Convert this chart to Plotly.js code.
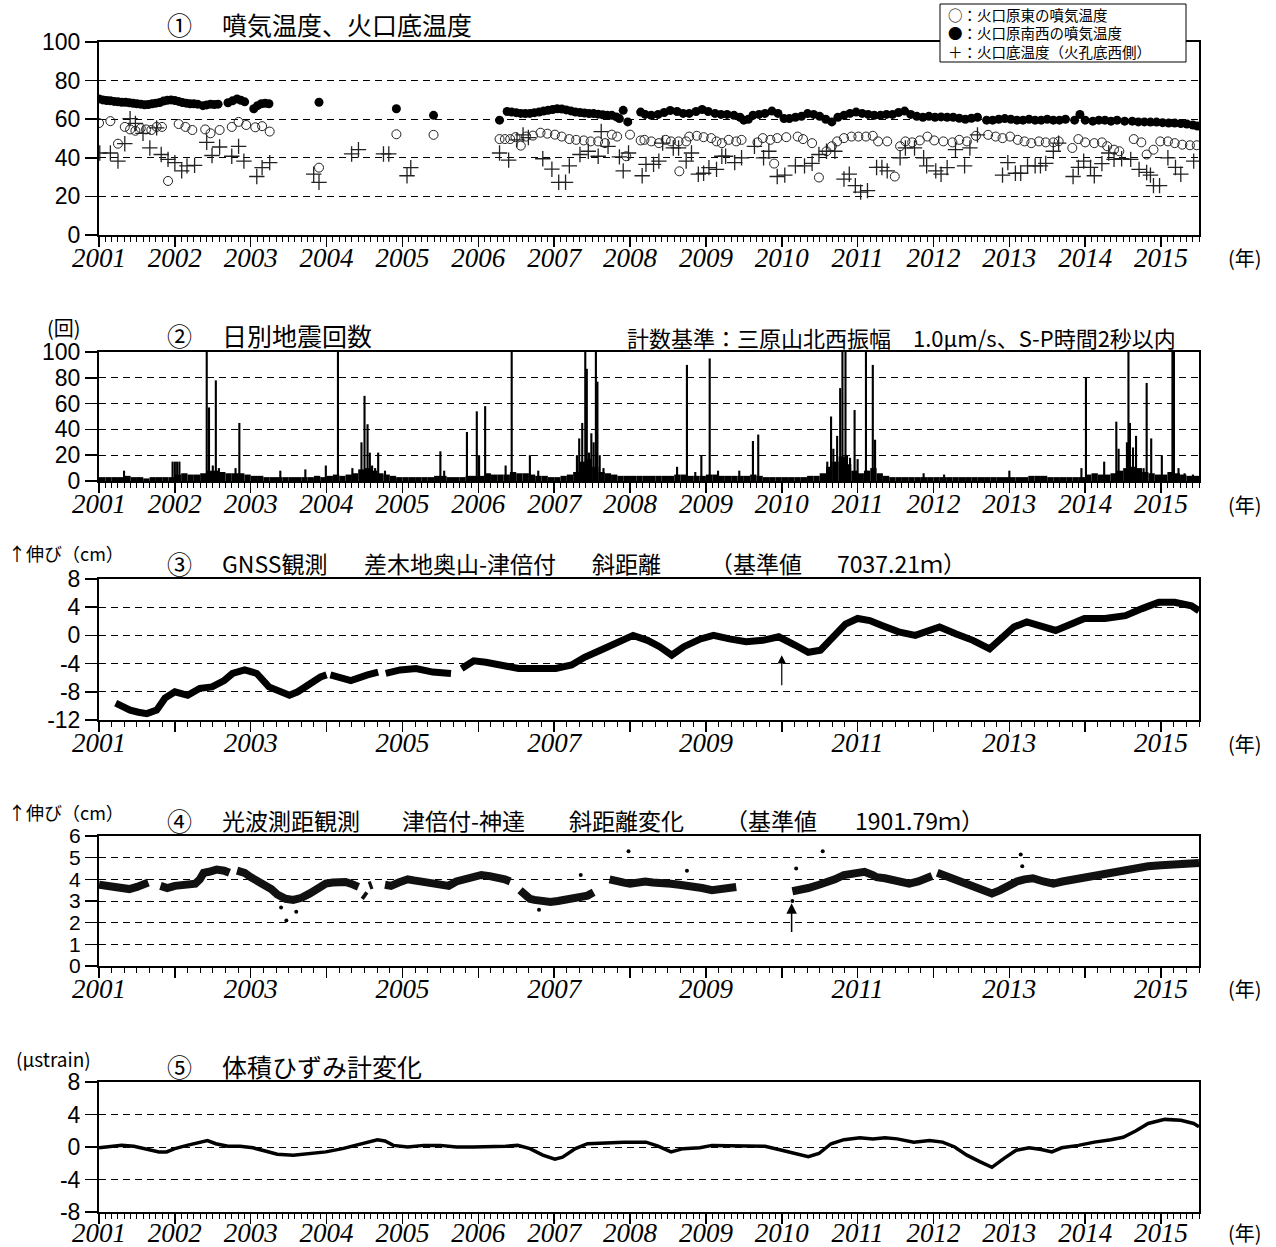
<!DOCTYPE html>
<html><head><meta charset="utf-8">
<script src="https://cdn.plot.ly/plotly-3.0.1.min.js"></script>
<style>body{margin:0;background:#fff}#chart{width:1276px;height:1247px}</style>
</head><body><div id="chart"></div>
<script>
// ---------- DATA ----------
const yearTicks = [2001,2002,2003,2004,2005,2006,2007,2008,2009,2010,2011,2012,2013,2014,2015];

// Panel 1: fumarole temperatures (year, degC)
const eastFumarole = [[2001.00,58],[2001.15,59],[2001.25,47.3],[2001.34,56],[2001.41,54.7],[2001.48,54],[2001.55,55.3],[2001.62,54.7],[2001.69,54.4],[2001.76,56],[2001.83,56],[2001.91,28],[2002.05,57.5],[2002.14,56],[2002.23,54.4],[2002.40,54.7],[2002.47,52.7],[2002.59,54.4],[2002.75,56],[2002.84,58.6],[2002.94,57],[2003.06,55.8],[2003.15,56.4],[2003.25,53.6],[2003.90,34.9],[2004.92,52.2],[2005.41,51.9],[2006.28,49.7],[2006.35,49.7],[2006.42,49.7],[2006.49,50.7],[2006.56,46.3],[2006.63,51],[2006.72,51.5],[2006.82,53],[2006.91,52.5],[2007.01,52],[2007.10,51],[2007.20,49.7],[2007.29,49.3],[2007.39,49],[2007.48,48.5],[2007.58,48.5],[2007.67,47.6],[2007.76,52],[2007.83,51],[2007.95,40.8],[2008.00,52],[2008.14,49],
[2008.19,49.3],[2008.28,48.5],[2008.38,47.6],[2008.47,49.3],[2008.54,48.5],[2008.64,48.5],[2008.65,33],[2008.74,48.5],[2008.78,51],[2008.88,51.4],[2008.97,50.7],[2009.07,50.2],[2009.14,48.5],[2009.21,47.6],[2009.30,49.3],[2009.40,48.5],[2009.47,49.3],[2009.68,48],[2009.75,50.2],[2009.85,49.3],[2009.90,37],[2009.94,50.2],[2010.06,50.7],[2010.21,51],[2010.28,49.7],[2010.40,47.6],[2010.49,29.8],[2010.59,43.4],[2010.66,46],[2010.73,48.5],[2010.82,50.2],[2010.92,51],[2011.01,51],[2011.11,51],[2011.20,51.4],[2011.27,48.5],[2011.39,48.5],[2011.49,30.3],[2011.56,46],[2011.63,48.5],[2011.72,48],[2011.82,49],[2011.92,51],[2012.01,49],[2012.13,48.5],[2012.25,48],[2012.34,49.3],[2012.44,48.5],[2012.56,51.4],[2012.72,51.9],[2012.82,51],[2012.91,50.2],[2013.01,51],[2013.11,49.3],[2013.20,48.5],[2013.29,47.6],[2013.39,48.5],[2013.48,48],[2013.58,48],[2013.65,48.5],[2013.83,45.1],[2013.91,49.7],[2014.00,48],[2014.12,47.6],[2014.22,48],[2014.29,46],[2014.38,44.2],[2014.45,43.4],[2014.64,49.7],[2014.74,48],[2014.81,41.7],[2014.90,44.2],[2014.99,48.5],[2015.09,48.5],[2015.18,47.6],[2015.28,46.8],[2015.38,46.5],[2015.47,46.5]];

const southwestFumarole = [[2001.00,70.5],[2001.05,70],[2001.10,69.7],[2001.15,69.5],[2001.20,69.2],[2001.25,69],[2001.30,68.8],[2001.35,68.8],[2001.40,68.5],[2001.45,68.2],[2001.50,68],[2001.55,67.8],[2001.60,67.5],[2001.65,67.6],[2001.70,68],[2001.75,68.3],[2001.80,68.6],[2001.85,69.4],[2001.90,69.8],[2001.95,70],[2002.00,69.7],[2002.05,69.2],[2002.10,68.6],[2002.15,68.3],[2002.20,68],[2002.25,68],[2002.30,67.8],[2002.37,67],[2002.42,67.4],[2002.47,67.8],[2002.52,67.6],[2002.57,67.8],[2002.70,68.5],[2002.76,69.5],[2002.82,70.5],[2002.87,69.8],[2002.92,69],[2003.04,65.4],[2003.09,67],[2003.14,68],[2003.19,68.2],[2003.24,68],[2003.90,68.8],[2004.92,65.4],[2005.41,62],[2006.28,59.5],[2006.38,64],[2006.44,63.7],[2006.50,63.4],[2006.56,63],[2006.62,62.9],[2006.68,63],[2006.74,63.4],[2006.80,63.7],[2006.86,64.2],[2006.92,64.6],[2006.98,65],[2007.04,65.4],[2007.10,65.3],[2007.16,64.8],[2007.22,64.3],[2007.28,63.7],[2007.34,63.5],[2007.40,63.2],[2007.46,62.9],[2007.52,62.9],[2007.58,62.6],[2007.64,62.3],[2007.70,62],[2007.76,62],[2007.82,61.2],[2007.86,60.3],[2007.91,64.6],[2007.97,58.6],[2008.14,63.7],
[2008.20,62.5],[2008.28,62],[2008.37,62.5],[2008.45,63.5],[2008.53,64.5],[2008.62,64],[2008.70,63],[2008.78,63],[2008.87,64],[2008.95,65],[2009.03,64],[2009.12,63],[2009.20,62.5],[2009.28,62.5],[2009.37,62],[2009.45,61],[2009.50,59.5],[2009.56,60],[2009.62,62],[2009.70,62.5],[2009.78,63],[2009.87,64.2],[2009.95,63],[2010.03,60.3],[2010.10,60.3],[2010.18,61],[2010.26,61.5],[2010.34,62.9],[2010.42,62.5],[2010.50,61.5],[2010.58,60],[2010.66,58.6],[2010.74,61],[2010.82,62],[2010.90,63],[2010.98,63.7],[2011.06,63],[2011.14,62.5],[2011.22,62],[2011.30,62],[2011.38,62.5],[2011.46,62.5],[2011.54,63.5],[2011.62,64.2],[2011.70,62.5],[2011.78,61.5],[2011.86,61],[2011.94,61.5],[2012.02,61],[2012.10,61.2],[2012.18,61],[2012.26,61],[2012.34,60.5],[2012.42,60],[2012.50,60.5],[2012.58,61],[2012.70,59.5],[2012.78,59.5],[2012.86,60],[2012.94,60.3],[2013.02,60],[2013.10,59.5],[2013.18,59.5],[2013.26,60],[2013.34,59.5],[2013.42,59.5],[2013.50,60],[2013.58,59.5],[2013.66,59.5],[2013.74,60],[2013.86,59.5],[2013.93,62.5],[2014.00,59.5],[2014.10,59],[2014.18,59.5],[2014.26,59.5],[2014.34,59],[2014.42,59.5],[2014.52,59],[2014.62,59],[2014.70,58.6],[2014.78,58.6],[2014.86,58.5],[2014.94,58.5],[2015.02,58.2],[2015.10,58],[2015.18,58],[2015.26,57.8],[2015.34,57.5],[2015.42,57],[2015.48,56.5]];

const craterFloor = [[2001.01,42.5],[2001.15,42.5],[2001.25,38.3],[2001.34,47.3],[2001.41,60.3],[2001.48,57.8],[2001.58,52.7],[2001.67,45.1],[2001.76,55.5],[2001.82,41.7],[2001.91,39.2],[2002.00,37.5],[2002.09,33.2],[2002.16,35.8],[2002.26,36.1],[2002.42,48],[2002.49,41.2],[2002.59,45.6],[2002.75,40.8],[2002.84,45.9],[2002.91,38.3],[2003.08,30.3],[2003.15,34.9],[2003.25,37.5],[2003.83,31.5],[2003.90,27.3],[2004.33,42],[2004.42,44.2],[2004.75,42],[2004.82,42],[2005.06,30.7],[2005.11,34.9],[2006.28,42.5],[2006.40,38.8],[2006.51,49.3],[2006.59,51.9],[2006.66,50.5],[2006.85,39.5],[2006.97,34.1],[2007.06,27.3],[2007.15,27.3],[2007.20,35.8],[2007.34,41.7],[2007.45,43.4],[2007.58,40.8],[2007.62,53.6],[2007.71,45.9],[2007.86,40.5],[2007.91,33.2],[2007.98,42.5],[2008.16,30.7],[2008.21,36.6],
[2008.31,36.6],[2008.38,38.3],[2008.43,47.6],[2008.57,45.1],[2008.64,45.1],[2008.74,38.3],[2008.81,42.5],[2008.90,31.5],[2008.97,32],[2009.04,34.9],[2009.14,34],[2009.21,40.8],[2009.26,40.8],[2009.38,37.5],[2009.47,40],[2009.64,45.9],[2009.76,40],[2009.83,43.4],[2009.94,30.3],[2010.04,31],[2010.18,35.8],[2010.30,35.8],[2010.40,37.1],[2010.49,41.7],[2010.59,43.4],[2010.70,43.4],[2010.82,29],[2010.89,31.5],[2010.97,25.6],[2011.04,22.2],[2011.13,23],[2011.25,35],[2011.32,35],[2011.39,33.2],[2011.56,40],[2011.63,45.1],[2011.75,45.1],[2011.87,40],[2011.91,35.8],[2012.03,33.2],[2012.10,31.5],[2012.18,34.9],[2012.29,44.2],[2012.41,35.8],[2012.48,45.1],[2012.58,51.9],[2012.91,31],[2012.98,37.5],[2013.08,32],[2013.15,32],[2013.24,35.8],[2013.34,35.8],[2013.41,35.8],[2013.48,37.1],[2013.58,43.4],[2013.65,47.6],[2013.84,30.3],[2013.91,35],[2013.98,38.3],[2014.07,35],[2014.12,30.7],[2014.22,37],[2014.31,42.5],[2014.38,39.2],[2014.48,39.5],[2014.60,39.2],[2014.71,34],[2014.81,32.4],[2014.86,31],[2014.90,25.6],[2014.98,25.6],[2015.09,40],[2015.19,35],[2015.26,31.5],[2015.43,38.3]];

// Panel 2: daily earthquake counts
// typical daily background level per month (Jan..Dec)
const quakeBackground = {
 2001:[3,3,3,3,4,3,3,2,3,3,3,3],
 2002:[5,6,5,5,6,8,8,7,6,6,6,5],
 2003:[4,4,3,3,3,3,3,3,3,3,4,3],
 2004:[4,5,4,5,6,9,10,8,6,5,4,3],
 2005:[3,3,3,3,3,4,4,3,3,3,4,4],
 2006:[4,6,5,5,5,7,6,6,5,4,4,3],
 2007:[3,4,5,7,15,17,11,7,6,5,4,4],
 2008:[4,4,4,4,4,4,4,5,5,4,4,4],
 2009:[5,5,4,4,4,4,4,5,4,3,3,3],
 2010:[3,3,3,3,4,4,6,11,15,19,13,8],
 2011:[6,8,10,6,4,3,3,3,3,3,3,3],
 2012:[3,3,3,3,3,3,3,3,3,3,3,3],
 2013:[3,3,3,4,4,4,3,3,3,3,3,3],
 2014:[5,6,5,5,6,8,10,11,10,7,6,5],
 2015:[5,7,6,5,4,4]
};
const quakeSpikes = [[2001.33,8],[2001.97,15],[2002.00,15],[2002.03,15],[2002.06,15],[2002.42,100],[2002.45,57],[2002.50,12],[2002.54,78],[2002.58,10],[2002.80,10],[2002.85,45],[2003.39,8],[2003.72,9],[2003.99,12],[2004.15,100],[2004.34,10],[2004.46,30],[2004.50,66],[2004.54,44],[2004.57,22],[2004.60,12],[2004.64,10],[2004.68,22],[2004.77,8],[2005.50,23],[2005.55,8],[2005.85,38],[2005.98,54],[2006.01,20],[2006.09,58],[2006.36,12],[2006.44,100],[2006.68,20],[2006.79,8],[2007.30,20],[2007.33,33],[2007.37,45],[2007.41,100],[2007.43,87],[2007.46,22],[2007.49,37],[2007.52,30],[2007.55,100],[2007.57,77],[2007.60,20],[2007.65,10],[2008.62,11],[2008.75,90],[2008.86,7],[2008.94,20],[2009.05,95],[2009.16,8],[2009.44,8],[2009.62,31],[2009.69,36],[2010.60,15],[2010.65,50],[2010.68,25],[2010.73,35],[2010.77,72],[2010.80,100],[2010.84,100],[2010.86,20],[2010.90,18],[2010.96,55],[2011.00,17],[2011.11,100],[2011.13,8],[2011.20,90],[2011.23,32],[2011.87,6],[2012.14,5],[2013.00,8],[2013.95,10],[2014.01,80],[2014.25,15],[2014.41,46],[2014.44,25],[2014.55,30],[2014.57,100],[2014.59,45],[2014.63,26],[2014.67,35],[2014.77,10],[2014.81,76],[2014.87,33],[2015.01,20],[2015.15,100],[2015.17,100],[2015.23,10],[2015.31,6],[2015.42,5]];

// Panel 3: GNSS slope distance change (cm); null = data gap
const gnssDistance = [[2001.22,-9.6],[2001.30,-10.1],[2001.41,-10.6],[2001.52,-10.9],[2001.63,-11.1],[2001.76,-10.6],[2001.87,-8.9],[2002.00,-8.0],[2002.17,-8.5],[2002.33,-7.5],[2002.49,-7.3],[2002.65,-6.4],[2002.76,-5.4],[2002.92,-4.9],[2003.08,-5.4],[2003.24,-7.3],[2003.41,-8.2],[2003.51,-8.5],[2003.62,-8.0],[2003.78,-6.8],[2003.92,-5.9],[2004.00,-5.6],[2004.02,null],[2004.05,-5.6],[2004.16,-5.9],[2004.32,-6.4],[2004.54,-5.6],[2004.68,-5.2],[2004.73,null],[2004.78,-5.4],[2004.97,-4.9],[2005.18,-4.7],[2005.40,-5.2],[2005.64,-5.4],[2005.71,null],[2005.78,-4.7],[2005.94,-3.6],[2006.10,-3.8],[2006.32,-4.2],[2006.53,-4.7],[2006.75,-4.7],[2007.02,-4.7],[2007.23,-4.2],[2007.40,-3.1],[2007.61,-2.1],[2007.83,-0.9],[2008.04,0.0],[2008.23,-0.7],[2008.39,-1.6],[2008.55,-2.8],[2008.71,-1.6],[2008.93,-0.5],[2009.10,0.0],[2009.31,-0.5],[2009.53,-0.9],[2009.75,-0.7],[2009.96,-0.2],[2010.18,-1.4],[2010.35,-2.4],[2010.51,-2.1],[2010.67,-0.2],[2010.84,1.6],[2011.00,2.4],[2011.16,2.1],[2011.32,1.4],[2011.54,0.5],[2011.76,0.0],[2011.92,0.7],[2012.08,1.2],[2012.30,0.2],[2012.52,-0.7],[2012.74,-1.9],[2012.90,-0.5],[2013.06,1.2],[2013.23,1.9],[2013.44,1.2],[2013.61,0.7],[2013.77,1.4],[2013.99,2.4],[2014.26,2.4],[2014.53,2.8],[2014.75,3.8],[2014.97,4.7],[2015.18,4.7],[2015.40,4.2],[2015.50,3.5]];

// Panel 4: EDM slope distance change (cm); null = data gap
const edmDistance = [[2001.00,3.75],[2001.10,3.7],[2001.20,3.6],[2001.30,3.6],[2001.40,3.55],[2001.50,3.65],[2001.60,3.8],[2001.65,3.85],[2001.72,null],[2001.81,3.7],[2001.90,3.6],[2002.00,3.7],[2002.10,3.75],[2002.20,3.75],[2002.27,3.8],[2002.33,4.0],[2002.38,4.3],[2002.45,4.35],[2002.55,4.45],[2002.65,4.4],[2002.72,4.3],[2002.77,null],[2002.82,4.4],[2002.92,4.3],[2003.00,4.1],[2003.08,3.95],[2003.19,3.75],[2003.27,3.55],[2003.35,3.3],[2003.46,3.1],[2003.56,3.05],[2003.67,3.15],[2003.78,3.35],[2003.89,3.6],[2003.99,3.8],[2004.08,3.85],[2004.16,3.9],[2004.25,3.88],[2004.32,3.8],[2004.42,3.65],[2004.45,null],[2004.48,3.3],[2004.52,3.2],[2004.54,null],[2004.56,3.7],[2004.60,3.75],[2004.68,null],[2004.77,3.75],[2004.85,3.7],[2004.95,3.85],[2005.07,4.0],[2005.15,3.95],[2005.25,3.9],[2005.34,3.8],[2005.45,3.8],[2005.55,3.75],[2005.61,3.7],[2005.71,3.9],[2005.80,4.0],[2005.90,4.1],[2006.04,4.2],[2006.15,4.15],[2006.25,4.1],[2006.35,4.0],[2006.42,3.9],[2006.48,null],[2006.55,3.5],[2006.62,3.3],[2006.68,3.1],[2006.74,3.05],[2006.85,2.95],[2006.95,2.95],[2007.05,3.0],[2007.15,3.05],[2007.22,3.1],[2007.32,3.15],[2007.44,3.25],[2007.52,3.4],[2007.62,null],[2007.73,4.0],[2007.82,3.9],[2007.92,3.85],[2008.00,3.8],[2008.08,3.85],[2008.20,3.9],[2008.30,3.85],[2008.40,3.85],[2008.54,3.8],[2008.65,3.75],[2008.81,3.7],[2008.95,3.6],[2009.08,3.5],[2009.20,3.55],[2009.30,3.6],[2009.40,3.65],[2009.70,null],[2010.14,3.45],[2010.25,3.5],[2010.35,3.6],[2010.49,3.75],[2010.60,3.85],[2010.70,4.0],[2010.82,4.2],[2010.95,4.3],[2011.09,4.35],[2011.20,4.2],[2011.25,4.1],[2011.36,4.05],[2011.50,3.9],[2011.68,3.8],[2011.80,3.9],[2011.90,4.0],[2011.98,4.15],[2012.01,null],[2012.05,4.3],[2012.12,4.2],[2012.22,4.05],[2012.33,3.9],[2012.45,3.75],[2012.55,3.6],[2012.65,3.45],[2012.77,3.35],[2012.88,3.5],[2012.99,3.75],[2013.10,3.9],[2013.20,4.0],[2013.31,4.05],[2013.45,3.9],[2013.58,3.8],[2013.70,3.9],[2013.85,4.0],[2014.00,4.05],[2014.10,4.1],[2014.23,4.2],[2014.35,4.3],[2014.50,4.45],[2014.65,4.5],[2014.83,4.6],[2015.00,4.65],[2015.16,4.7],[2015.35,4.72],[2015.50,4.75]];
const edmOutliers = [[2003.47,2.1],[2003.60,2.5],[2003.40,2.7],[2006.80,2.6],[2007.98,5.3],[2008.75,4.4],[2010.14,3.0],[2010.19,4.5],[2010.54,5.3],[2013.15,5.15],[2013.17,4.6],[2007.35,4.2]];

// Panel 5: volumetric strain (microstrain)
const volStrain = [[2001.00,-0.1],[2001.19,0.1],[2001.30,0.2],[2001.46,0.1],[2001.62,-0.2],[2001.79,-0.6],[2001.89,-0.6],[2002.00,-0.2],[2002.16,0.2],[2002.33,0.6],[2002.43,0.8],[2002.54,0.4],[2002.70,0.1],[2002.86,0.1],[2003.03,-0.1],[2003.19,-0.5],[2003.35,-0.9],[2003.56,-1.0],[2003.78,-0.8],[2003.99,-0.6],[2004.21,-0.2],[2004.37,0.2],[2004.53,0.6],[2004.67,0.9],[2004.77,0.75],[2004.88,0.2],[2005.07,0.0],[2005.28,0.2],[2005.50,0.2],[2005.71,0.0],[2005.93,0.0],[2006.15,0.0],[2006.36,0.1],[2006.52,0.2],[2006.68,-0.2],[2006.85,-1.0],[2007.01,-1.5],[2007.11,-1.25],[2007.28,-0.2],[2007.44,0.4],[2007.65,0.5],[2007.92,0.6],[2008.13,0.6],[2008.21,0.6],[2008.37,0.1],[2008.54,-0.6],[2008.70,-0.2],[2008.92,-0.1],[2009.08,0.2],[2009.35,0.2],[2009.62,0.1],[2009.78,0.1],[2010.00,-0.4],[2010.22,-0.9],[2010.35,-1.2],[2010.49,-0.8],[2010.65,0.4],[2010.82,0.9],[2011.03,1.15],[2011.20,1.0],[2011.36,1.15],[2011.52,1.0],[2011.74,0.6],[2011.95,0.8],[2012.12,0.6],[2012.28,0.0],[2012.44,-1.0],[2012.61,-1.8],[2012.77,-2.5],[2012.93,-1.4],[2013.09,-0.4],[2013.26,-0.1],[2013.42,-0.3],[2013.56,-0.6],[2013.69,-0.1],[2013.91,0.2],[2014.12,0.6],[2014.34,0.9],[2014.50,1.2],[2014.67,2.0],[2014.83,2.9],[2015.05,3.4],[2015.26,3.3],[2015.43,2.9],[2015.50,2.5]];

// Event arrows (year, tail value, head value)
const gnssArrow = {year:2010.0, from:-7.3, to:-2.8};
const edmArrow = {year:2010.13, from:1.5, to:2.9};

// Text
const panelTitles = [
 {num:'①', text:'噴気温度、火口底温度'},
 {num:'②', text:'日別地震回数'},
 {num:'⑤', text:'体積ひずみ計変化'}
];
const legendLines = ['○：火口原東の噴気温度','●：火口原南西の噴気温度','＋：火口底温度（火孔底西側）'];
const countCriterion = '計数基準：三原山北西振幅　1.0μm/s、S-P時間2秒以内';

// ---------- LAYOUT HELPERS ----------
const W=1276, H=1247, ML=99, MR=77;
const PW = W-ML-MR;
const px = x => (x-ML)/PW;
const py = y => 1 - y/H;
const xs = s => s.map(p=>p[0]);
const ys = s => s.map(p=>p[1]);

const JP = '"Noto Sans CJK JP", "Noto Sans", sans-serif';
const blk = '#000';

function yax(top, bottom, range, dtick, anchor, fsize){
  const vals = [];
  for (let v=range[0]; v<=range[1]+1e-9; v+=dtick) vals.push(v);
  return {domain:[py(bottom), py(top)], range, anchor,
    tickmode:'array', tickvals:vals, ticktext:vals.map(v=>String(v)),
    showline:true, mirror:true, linewidth:2, linecolor:blk,
    ticks:'outside', ticklen:12, tickwidth:1.5, tickcolor:blk,
    showgrid:true, gridcolor:blk, gridwidth:1, griddash:'7px,5px',
    zeroline:false, automargin:false, fixedrange:true,
    tickfont:{family:'"Liberation Sans", Arial, sans-serif', size:fsize||23, color:blk}};
}
function xax(anchor, oddOnly, minorStep, standoff){
  return {range:[2001,2015.5], anchor, tickmode:'array', tickvals:yearTicks,
    ticktext: yearTicks.map(y => (oddOnly && y%2===0) ? '' : String(y)),
    showline:true, mirror:true, linewidth:2, linecolor:blk,
    ticks:'outside', ticklen:10, tickwidth:1.5, tickcolor:blk, ticklabelstandoff:(standoff===undefined?-12:standoff),
    minor:{tick0:2001, dtick:minorStep, ticks:'outside', ticklen:5, tickwidth:1, tickcolor:blk, showgrid:false},
    showgrid:false, zeroline:false, automargin:false, fixedrange:true,
    tickfont:{family:'"Liberation Serif", "Times New Roman", serif', size:27, style:'italic', color:blk}};
}
function txt(text, x, y, size, anchor, extra){
  return Object.assign({text, xref:'paper', yref:'paper', x:px(x), y:py(y),
    xanchor:anchor||'left', yanchor:'middle', showarrow:false,
    font:{family:JP, size, color:blk}}, extra||{});
}

// ---------- TRACES ----------
const traces = [];
traces.push({type:'scatter', mode:'markers', xaxis:'x', yaxis:'y', x:xs(southwestFumarole), y:ys(southwestFumarole),
  marker:{symbol:'circle', size:9, color:blk}, hoverinfo:'skip'});
traces.push({type:'scatter', mode:'markers', xaxis:'x', yaxis:'y', x:xs(eastFumarole), y:ys(eastFumarole),
  marker:{symbol:'circle-open', size:9, color:'#222', line:{width:1}}, hoverinfo:'skip'});
traces.push({type:'scatter', mode:'markers', xaxis:'x', yaxis:'y', x:xs(craterFloor), y:ys(craterFloor),
  marker:{symbol:'cross-thin-open', size:11, color:'#222', line:{width:1.3, color:'#222'}}, hoverinfo:'skip'});

const bgX=[], bgY=[];
Object.keys(quakeBackground).forEach(yr => {
  quakeBackground[yr].forEach((v,m) => { bgX.push(+yr + (m+0.5)/12); bgY.push(v); });
});
traces.push({type:'bar', xaxis:'x2', yaxis:'y2', x:bgX, y:bgY, width:1/12,
  marker:{color:blk, line:{width:0}}, hoverinfo:'skip'});
traces.push({type:'bar', xaxis:'x2', yaxis:'y2', x:xs(quakeSpikes), y:ys(quakeSpikes), width:0.028,
  marker:{color:blk, line:{width:0}}, hoverinfo:'skip'});

traces.push({type:'scatter', mode:'lines', xaxis:'x3', yaxis:'y3', x:xs(gnssDistance), y:ys(gnssDistance),
  line:{color:blk, width:7}, connectgaps:false, hoverinfo:'skip'});

traces.push({type:'scatter', mode:'lines', xaxis:'x4', yaxis:'y4', x:xs(edmDistance), y:ys(edmDistance),
  line:{color:'#111', width:8}, connectgaps:false, hoverinfo:'skip'});
traces.push({type:'scatter', mode:'markers', xaxis:'x4', yaxis:'y4', x:xs(edmOutliers), y:ys(edmOutliers),
  marker:{color:blk, size:4}, hoverinfo:'skip'});

traces.push({type:'scatter', mode:'lines', xaxis:'x5', yaxis:'y5', x:xs(volStrain), y:ys(volStrain),
  line:{color:blk, width:3.5}, hoverinfo:'skip'});

// ---------- ANNOTATIONS ----------
const ann = [];
ann.push(txt(panelTitles[0].num, 165, 24, 25));
ann.push(txt(panelTitles[0].text, 220, 24, 25));
[14, 33, 52].forEach((y,i) => ann.push(txt(legendLines[i], 946, y, 14.5)));

ann.push(txt('(回)', 45, 327, 20));
ann.push(txt(panelTitles[1].num, 165, 335, 25));
ann.push(txt(panelTitles[1].text, 220, 335, 25));
ann.push(txt(countCriterion, 1178, 337, 22, 'right'));

ann.push(txt('↑伸び（cm）', 6, 553, 18));
ann.push(txt('③', 165, 563, 25));
ann.push(txt('GNSS観測', 220, 563, 23));
ann.push(txt('差木地奥山-津倍付', 362, 563, 23));
ann.push(txt('斜距離', 590, 563, 23));
ann.push(txt('（基準値', 708, 563, 23));
ann.push(txt('7037.21ｍ）', 835, 563, 23));

ann.push(txt('↑伸び（cm）', 6, 812, 18));
ann.push(txt('④', 165, 820, 25));
ann.push(txt('光波測距観測', 220, 820, 23));
ann.push(txt('津倍付-神達', 400, 820, 23));
ann.push(txt('斜距離変化', 567, 820, 23));
ann.push(txt('（基準値', 723, 820, 23));
ann.push(txt('1901.79ｍ）', 853, 820, 23));

ann.push(txt('(μstrain)', 14, 1058, 19));
ann.push(txt(panelTitles[2].num, 165, 1066, 25));
ann.push(txt(panelTitles[2].text, 220, 1066, 25));

[258, 504, 743, 988, 1232].forEach(y => ann.push(txt('(年)', 1226, y, 20)));

ann.push({xref:'x3', yref:'y3', axref:'x3', ayref:'y3', x:gnssArrow.year, y:gnssArrow.to,
  ax:gnssArrow.year, ay:gnssArrow.from, showarrow:true, arrowhead:2, arrowsize:1.4, arrowwidth:1.2, arrowcolor:blk, text:''});
ann.push({xref:'x4', yref:'y4', axref:'x4', ayref:'y4', x:edmArrow.year, y:edmArrow.to,
  ax:edmArrow.year, ay:edmArrow.from, showarrow:true, arrowhead:2, arrowsize:1.4, arrowwidth:1.5, arrowcolor:blk, text:''});

// legend box
const shapes = [{type:'rect', xref:'paper', yref:'paper', x0:px(940), x1:px(1186), y0:py(62), y1:py(4),
  fillcolor:'#fff', line:{color:blk, width:1}, layer:'above'}];

// ---------- LAYOUT ----------
const layout = {
  width:W, height:H, margin:{l:ML, r:MR, t:0, b:0, pad:0},
  paper_bgcolor:'#fff', plot_bgcolor:'#fff', showlegend:false, barmode:'overlay',
  xaxis: xax('y', false, 1/12),
  yaxis: yax(42, 235, [0,100], 20, 'x'),
  xaxis2: xax('y2', false, 1/12),
  yaxis2: yax(352, 481, [0,100], 20, 'x2'),
  xaxis3: xax('y3', true, 1/6),
  yaxis3: yax(579, 720, [-12,8], 4, 'x3'),
  xaxis4: xax('y4', true, 1/6),
  yaxis4: yax(836, 966, [0,6], 1, 'x4', 21),
  xaxis5: xax('y5', false, 1/12, -14),
  yaxis5: yax(1082, 1212, [-8,8], 4, 'x5'),
  annotations: ann, shapes
};
Plotly.newPlot('chart', traces, layout, {displayModeBar:false, staticPlot:true});
</script></body></html>
